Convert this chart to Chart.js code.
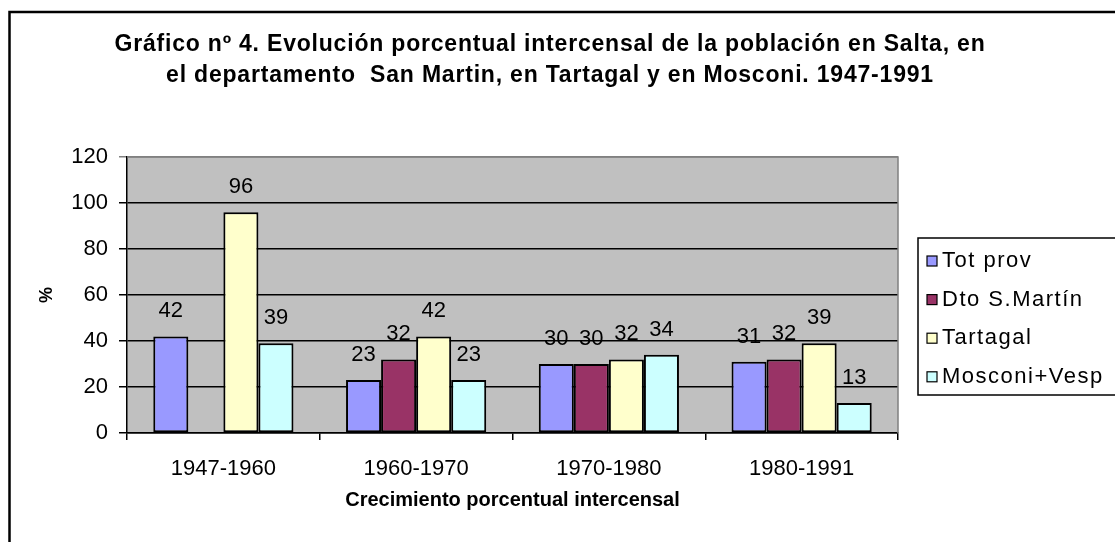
<!DOCTYPE html>
<html>
<head>
<meta charset="utf-8">
<script src="https://cdn.jsdelivr.net/npm/chart.js@4.4.1/dist/chart.umd.min.js"></script>
<style>
    html, body { margin: 0; padding: 0; background: #fff; }
    #wrap { width: 1115px; height: 542px; }
</style>
</head>
<body>
<div id="wrap"><canvas id="growthChart" width="1115" height="542"></canvas></div>
<script>
const periods = ['1947-1960', '1960-1970', '1970-1980', '1980-1991'];
const totProv = [42, 23, 30, 31];
const dtoSanMartin = [null, 32, 30, 32];
const tartagal = [96, 42, 32, 39];
const mosconiVesp = [39, 23, 34, 13];
const seriesNames = ['Tot prov', 'Dto S.Martín', 'Tartagal', 'Mosconi+Vesp'];
const seriesColors = ['#9999FF', '#993366', '#FFFFCC', '#CCFFFF'];
const yMin = 0, yMax = 120, yStep = 20;
const titleLines = [
    'Gráfico nº 4. Evolución porcentual intercensal de la población en Salta, en',
    'el departamento  San Martin, en Tartagal y en Mosconi. 1947-1991'
];
const xTitle = 'Crecimiento porcentual intercensal';
const yTitle = '%';

const FONT = '"Liberation Sans", Arial, sans-serif';

// white page, outer frame and grey plot area
const framePlugin = {
    id: 'frame',
    beforeDraw(chart) {
        const { ctx, chartArea: a } = chart;
        ctx.save();
        ctx.fillStyle = '#fff';
        ctx.fillRect(0, 0, chart.width, chart.height);
        ctx.strokeStyle = '#000';
        ctx.lineWidth = 2.5;
        ctx.strokeRect(9.5, 12, 1300, 700);
        ctx.fillStyle = '#C0C0C0';
        ctx.fillRect(a.left, a.top, a.right - a.left, a.bottom - a.top);
        ctx.restore();
    },
    afterDatasetsDraw(chart) {
        const { ctx, chartArea: a } = chart;
        ctx.save();
        ctx.strokeStyle = '#808080';
        ctx.lineWidth = 1.5;
        ctx.beginPath();
        ctx.moveTo(a.left, a.top);
        ctx.lineTo(a.right, a.top);
        ctx.lineTo(a.right, a.bottom);
        ctx.stroke();
        ctx.restore();
    }
};

// values above each bar
const valueLabels = {
    id: 'valueLabels',
    afterDatasetsDraw(chart) {
        const { ctx } = chart;
        ctx.save();
        ctx.font = `22px ${FONT}`;
        ctx.fillStyle = '#000';
        ctx.textAlign = 'center';
        ctx.textBaseline = 'middle';
        chart.data.datasets.forEach((ds, i) => {
            chart.getDatasetMeta(i).data.forEach((bar, j) => {
                const v = ds.data[j];
                if (v === null || v === undefined) return;
                ctx.fillText(String(v), bar.x, bar.y - 25);
            });
        });
        ctx.restore();
    }
};

// two-line bold title, Excel style
const chartTitle = {
    id: 'chartTitle',
    afterDraw(chart) {
        const { ctx } = chart;
        ctx.save();
        ctx.font = `bold 23px ${FONT}`;
        ctx.letterSpacing = '0.8px';
        ctx.fillStyle = '#000';
        ctx.textAlign = 'center';
        ctx.textBaseline = 'middle';
        titleLines.forEach((line, i) => ctx.fillText(line, 550, 44.5 + i * 31));
        ctx.restore();
    }
};

// boxed legend on the right
const boxedLegend = {
    id: 'boxedLegend',
    afterDraw(chart) {
        const { ctx } = chart;
        const left = 918, top = 238, bottom = 395;
        ctx.save();
        ctx.strokeStyle = '#000';
        ctx.lineWidth = 1.5;
        ctx.strokeRect(left, top, 300, bottom - top);
        ctx.font = `22px ${FONT}`;
        ctx.letterSpacing = '1.5px';
        ctx.textBaseline = 'middle';
        chart.data.datasets.forEach((ds, i) => {
            const cy = 261 + i * 38.6;
            ctx.fillStyle = ds.backgroundColor;
            ctx.fillRect(927, cy - 5, 10, 10);
            ctx.lineWidth = 1.2;
            ctx.strokeRect(927, cy - 5, 10, 10);
            ctx.fillStyle = '#000';
            ctx.fillText(ds.label, 942, cy);
        });
        ctx.restore();
    }
};

const seriesData = [totProv, dtoSanMartin, tartagal, mosconiVesp];

new Chart(document.getElementById('growthChart'), {
    type: 'bar',
    data: {
        labels: periods,
        datasets: seriesData.map((values, i) => ({
            label: seriesNames[i],
            data: values,
            backgroundColor: seriesColors[i],
            borderColor: '#000',
            borderWidth: 2,
            borderSkipped: false,
            categoryPercentage: 4 / 5.5,
            barPercentage: 1
        }))
    },
    options: {
        responsive: false,
        animation: false,
        layout: { padding: { left: 10, right: 217, top: 157, bottom: 30 } },
        plugins: {
            legend: { display: false },
            title: { display: false },
            tooltip: { enabled: false }
        },
        scales: {
            x: {
                offset: true,
                grid: {
                    offset: true,
                    drawOnChartArea: false,
                    drawTicks: true,
                    tickLength: 7,
                    color: '#000',
                    lineWidth: 1.5
                },
                border: { display: true, color: '#000', width: 1.5 },
                ticks: { color: '#000', font: { family: FONT, size: 22 }, padding: 16 },
                title: {
                    display: true,
                    text: xTitle,
                    color: '#000',
                    font: { family: FONT, size: 20, weight: 'bold' },
                    padding: { top: 0, bottom: 0 }
                },
                afterFit: s => { s.height = 79; }
            },
            y: {
                min: yMin,
                max: yMax,
                ticks: { stepSize: yStep, color: '#000', font: { family: FONT, size: 22 }, padding: 11 },
                grid: {
                    color: ctx => (ctx.tick && ctx.tick.value === yMax ? '#808080' : '#000'),
                    lineWidth: 1.5,
                    drawTicks: true,
                    tickLength: 8
                },
                border: { display: true, color: '#000', width: 1.5 },
                title: {
                    display: true,
                    text: yTitle,
                    color: '#000',
                    font: { family: FONT, size: 18, weight: 'bold' },
                    padding: { top: 26, bottom: 0 }
                },
                afterFit: s => { s.width = 117; }
            }
        }
    },
    plugins: [framePlugin, valueLabels, chartTitle, boxedLegend]
});
</script>
</body>
</html>
